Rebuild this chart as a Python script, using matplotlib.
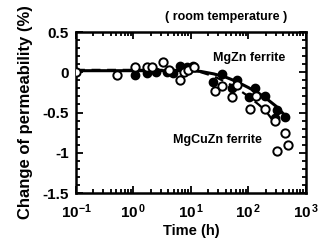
import matplotlib
matplotlib.use("Agg")
import matplotlib.pyplot as plt
from matplotlib.ticker import LogLocator, MultipleLocator, NullFormatter

plt.rcParams['font.family'] = ['Liberation Sans', 'DejaVu Sans']
plt.rcParams['font.weight'] = 'bold'
plt.rcParams['mathtext.fontset'] = 'custom'
plt.rcParams['mathtext.rm'] = 'Liberation Sans:bold'
plt.rcParams['mathtext.bf'] = 'Liberation Sans:bold'
plt.rcParams['mathtext.default'] = 'bf'

# MgZn ferrite (filled circles)
mgzn_t = [1.06, 1.7, 2.5, 3.8, 4.9, 6.4, 8.4, 11, 24.5, 34, 51, 62, 103, 129, 195, 289, 310, 427]
mgzn_v = [-0.03, -0.01, 0.0, 0.0, -0.01, 0.08, 0.07, 0.08, -0.12, -0.02, -0.19, -0.10, -0.31, -0.19, -0.29, -0.57, -0.47, -0.55]

# MgCuZn ferrite (open circles)
mgcuzn_t = [0.1, 0.52, 1.06, 1.7, 2.1, 3.3, 4.2, 6.4, 7.5, 9.0, 11.5, 26, 34, 52, 62, 106, 135, 195, 290, 310, 427, 490]
mgcuzn_v = [0.0, -0.03, 0.06, 0.06, 0.06, 0.13, 0.03, -0.09, 0.0, 0.03, 0.06, -0.23, -0.17, -0.31, -0.16, -0.45, -0.30, -0.45, -0.60, -0.98, -0.76, -0.90]

# Trend lines
mgzn_fit_t = [0.1, 1, 5, 10, 15, 25, 40, 60, 100, 150, 200, 300, 450]
mgzn_fit_v = [0.02, 0.02, 0.02, 0.02, 0.01, -0.02, -0.06, -0.11, -0.19, -0.26, -0.32, -0.42, -0.55]
mgcuzn_fit_t = [0.1, 1, 5, 10, 15, 25, 40, 60, 100, 150, 200, 280]
mgcuzn_fit_v = [0.03, 0.03, 0.03, 0.02, 0.0, -0.05, -0.12, -0.19, -0.30, -0.40, -0.48, -0.62]

x_ticks = [0.1, 1, 10, 100, 1000]
x_labels = ['$10^{-1}$', '$10^{\\,0}$', '$10^{\\,1}$', '$10^{\\,2}$', '$10^{\\,3}$']
y_ticks = [0.5, 0, -0.5, -1, -1.5]
y_labels = ['0.5', '0', '-0.5', '-1', '-1.5']

fig = plt.figure(figsize=(3.29, 2.41), dpi=100)
ax = fig.add_axes([0.231, 0.199, 0.699, 0.668])

ax.plot(mgzn_fit_t, mgzn_fit_v, color='black', lw=2.2, zorder=2)
ax.plot(mgcuzn_fit_t, mgcuzn_fit_v, color='black', lw=1.6, ls=(0, (4, 3)), zorder=2)
ax.plot(mgzn_t, mgzn_v, 'o', color='black', ms=6, zorder=3)
ax.plot(mgcuzn_t, mgcuzn_v, 'o', mfc='white', mec='black', mew=1.4, ms=6, zorder=4)

ax.set_xscale('log')
ax.set_xlim(0.1, 1000)
ax.set_ylim(-1.5, 0.5)
ax.set_xticks(x_ticks)
ax.set_xticklabels(x_labels)
ax.xaxis.set_minor_locator(LogLocator(base=10, subs=range(2, 10), numticks=20))
ax.xaxis.set_minor_formatter(NullFormatter())
ax.set_yticks(y_ticks)
ax.set_yticklabels(y_labels)
ax.yaxis.set_minor_locator(MultipleLocator(0.1))

ax.tick_params(which='both', direction='in', top=True, right=True, width=1.3)
ax.tick_params(which='major', length=5, labelsize=11, pad=5)
ax.tick_params(axis='x', which='major', pad=7)
ax.tick_params(which='minor', length=3)
for s in ax.spines.values():
    s.set_linewidth(1.8)

ax.set_xlabel('Time (h)', fontsize=10.5, fontweight='bold', labelpad=2)
ax.set_ylabel('Change of permeability (%)', fontsize=12, fontweight='bold', labelpad=7)

ax.text(24, 0.18, 'MgZn ferrite', fontsize=9, fontweight='bold', ha='left', va='center')
ax.text(4.9, -0.84, 'MgCuZn ferrite', fontsize=9, fontweight='bold', ha='left', va='center')
fig.text(0.687, 0.93, '( room temperature )', fontsize=9, fontweight='bold', ha='center', va='center')

fig.savefig('out.png', dpi=100)
